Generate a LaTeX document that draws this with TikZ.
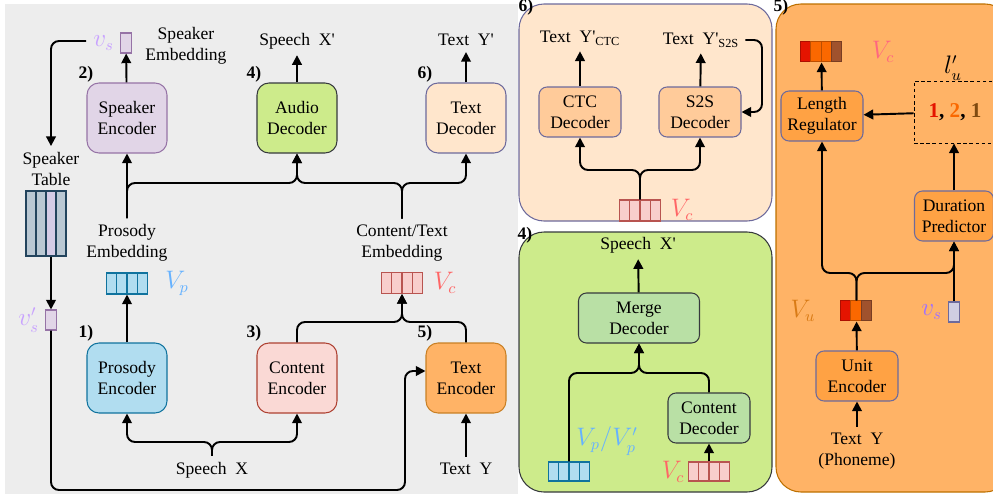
\documentclass[tikz,border=0pt]{standalone}
\usepackage{fontspec}
\setmainfont{Liberation Serif}
\usetikzlibrary{arrows.meta}
\usetikzlibrary{calc}

\definecolor{bggray}{HTML}{EDEDED}
\definecolor{spkfill}{HTML}{E1D5E7}
\definecolor{spkdraw}{HTML}{9673A6}
\definecolor{audfill}{HTML}{CDEB8B}
\definecolor{auddraw}{HTML}{36393D}
\definecolor{tdfill}{HTML}{FFE6CC}
\definecolor{tddraw}{HTML}{6D6A9C}
\definecolor{profill}{HTML}{B1DDF0}
\definecolor{prodraw}{HTML}{10739E}
\definecolor{confill}{HTML}{FAD9D5}
\definecolor{condraw}{HTML}{AE4132}
\definecolor{tefill}{HTML}{FFB366}
\definecolor{tedraw}{HTML}{C98025}
\definecolor{tblc}{HTML}{BAC8D3}
\definecolor{tbldraw}{HTML}{23445D}
\definecolor{tblsel}{HTML}{D5CCE6}
\definecolor{vsdraw}{HTML}{9673A6}
\definecolor{vslab}{HTML}{C8A2FF}
\definecolor{vplab}{HTML}{66B2FF}
\definecolor{vcfill}{HTML}{F8CECC}
\definecolor{vcdraw}{HTML}{B85450}
\definecolor{vclab}{HTML}{FF6666}
\definecolor{sdfill}{HTML}{FFCB9A}
\definecolor{gdfill}{HTML}{B9E0A5}
\definecolor{p5draw}{HTML}{BD7000}
\definecolor{odfill}{HTML}{FFA244}
\definecolor{ured}{HTML}{E51400}
\definecolor{uorg}{HTML}{FA6800}
\definecolor{ubrn}{HTML}{A0522D}
\definecolor{udark}{HTML}{7F4A10}
\definecolor{vulab}{HTML}{D97B16}
\definecolor{vsrfill}{HTML}{D0CEE2}
\definecolor{vsrlab}{HTML}{A070FF}
\definecolor{vc5lab}{HTML}{FF6680}

\tikzset{
  txt/.style={align=center},
  box/.style={draw, align=center, line width=0.6pt, rounded corners=2.4mm,
    minimum width=16mm, minimum height=14mm, inner sep=1pt},
  sbox/.style={box, rounded corners=1.6mm, minimum width=16.4mm, minimum height=10mm},
  panel/.style={line width=0.6pt, rounded corners=5mm},
  num/.style={font=\bfseries},
  arr/.style={line width=1.1pt, -{Triangle[length=5.5pt,width=5.5pt]}},
  con/.style={arr, rounded corners=1.6mm},
  vec/.style={draw, line width=0.6pt, minimum width=8.2mm, minimum height=4.2mm, inner sep=0pt},
  slim/.style={draw, line width=0.6pt, minimum width=2.2mm, minimum height=4mm, inner sep=0pt},
  vlab/.style={font=\fontsize{13.5}{15}\selectfont},
}

% dividers of a vector node: node, number of cells, colour
\newcommand{\splitvec}[3]{%
  \foreach \k in {1,...,#2}{
    \ifnum\k<#2
      \draw[#3, line width=0.6pt] ($(#1.north west)!\k/#2!(#1.north east)$) -- ($(#1.south west)!\k/#2!(#1.south east)$);
    \fi}}

\begin{document}
\begin{tikzpicture}[x=0.2mm, y=-0.2mm, font=\fontsize{10}{12}\selectfont]
\useasboundingbox (0,0) rectangle (993,497);

%panels
\fill[bggray] (5,4) rectangle (518,494);
\draw[panel, fill=tdfill, draw=tddraw] (519,4) rectangle (772,221);
\draw[panel, fill=audfill, draw=auddraw] (519,232) rectangle (772,492);
\draw[panel, fill=tefill, draw=p5draw] (776,4) rectangle (1010,492);

%%% main model %%%
%encoders / decoders
\node[box, fill=spkfill, draw=spkdraw] (spk) at (127,118) {Speaker\\Encoder};
\node[box, fill=audfill, draw=auddraw] (aud) at (297,118) {Audio\\Decoder};
\node[box, fill=tdfill, draw=tddraw] (tdec) at (466,118) {Text\\Decoder};
\node[box, fill=profill, draw=prodraw] (pro) at (127,378) {Prosody\\Encoder};
\node[box, fill=confill, draw=condraw] (con) at (297,378) {Content\\Encoder};
\node[box, fill=tefill, draw=tedraw] (tenc) at (466,378) {Text\\Encoder};

\node[num] at (86,74) {2)};
\node[num] at (254,74) {4)};
\node[num] at (425,74) {6)};
\node[num] at (86,333) {1)};
\node[num] at (254,333) {3)};
\node[num] at (425,333) {5)};

%outputs
\node[txt] (sxp) at (297,41) {Speech~~X\textquotesingle};
\node[txt] (typ) at (466,40) {Text~~Y\textquotesingle};
\draw[arr] (aud) -- (sxp);
\draw[arr] (tdec) -- (typ);

%speaker embedding
\node[slim, fill=spkfill, draw=vsdraw] (vs) at (126,43) {};
\node[vlab, text=vslab, left] (vsl) at (vs.west) {$v_s$};
\node[txt] (spkemb) at (186,46) {Speaker\\Embedding};
\draw[arr] (spk) -- (vs);
\coordinate (vsout) at (86,41);

%speaker table
\node[txt] (tbllab) at (51,169) {Speaker\\Table};
\foreach \i/\c in {1/tblc,2/tblc,3/tblsel,4/tblc}
  \node[draw=tbldraw, fill=\c, line width=0.6pt, minimum width=2mm, minimum height=13mm, inner sep=0pt] (t\i) at (21+10*\i,223.5) {};
\draw[con] (vsout) -| (tbllab.north);
\node[slim, fill=spkfill, draw=vsdraw] (vsp) at (51,320) {};
\node[vlab, text=vslab, left] (vspl) at (vsp.west) {$v'_s$};
\draw[arr] (t3.south) -- (vsp.north);
\coordinate (jb) at (405,490);
\coordinate (jtin) at ($(tenc.west)+(0,-7)$);
\draw[con] (vsp.south) |- (jb) |- (jtin);

%prosody embedding
\node[vec, fill=profill, draw=prodraw] (vp) at (127,283.5) {};
\splitvec{vp}{4}{prodraw}
\node[vlab, text=vplab] (vpl) at (177,283) {$V_p$};
\draw[arr] (pro) -- (vp);
\node[txt] (proemb) at (127,243) {Prosody\\Embedding};
\draw[arr] (proemb) -- (spk);

%content embedding
\node[vec, fill=vcfill, draw=vcdraw] (vc) at (402,283) {};
\splitvec{vc}{4}{vcdraw}
\node[vlab, text=vclab] (vcl) at (445,283) {$V_c$};
\node[txt] (ctemb) at (402,243) {Content/Text\\Embedding};
\coordinate (jc) at (402,322);
\draw[con] (con.north) |- (jc) -- (vc.south);
\draw[con] (tenc.north) |- (jc) -- (vc.south);

%to decoders
\coordinate (ja) at (297,183);
\coordinate (jt) at (466,183);
\draw[con] (proemb.north) |- (ja) -- (aud.south);
\draw[con] (ctemb.north) |- (ja) -- (aud.south);
\draw[con] (ctemb.north) |- (jt) -- (tdec.south);

%inputs
\node[txt] (sx) at (212,470) {Speech~~X};
\coordinate (js) at (212,442);
\draw[con] (sx.north) -- (js) -| (pro.south);
\draw[con] (sx.north) -- (js) -| (con.south);
\node[txt] (ty) at (466,469) {Text~~Y};
\draw[arr] (ty.north) -- (tenc.south);

%%% 6) text decoder %%%
\node[num] at (526,7) {6)};
\node[sbox, fill=sdfill, draw=tddraw] (ctc) at (580,112) {CTC\\Decoder};
\node[sbox, fill=sdfill, draw=tddraw] (s2s) at (700,112) {S2S\\Decoder};
\node[txt] (yctc) at (580,38) {Text~~Y\textquotesingle\textsubscript{CTC}};
\node[txt] (ys2s) at (701,40) {Text~~Y\textquotesingle\textsubscript{S2S}};
\draw[arr] (ctc) -- (yctc);
\draw[arr] (s2s) -- (ys2s);
\coordinate (fb) at (762,112);
\draw[con] (ys2s.east) -| (fb) -- (s2s.east);
\node[vec, fill=vcfill, draw=vcdraw] (vc6) at (640,210.5) {};
\splitvec{vc6}{4}{vcdraw}
\node[vlab, text=vclab] (vc6l) at (682,210) {$V_c$};
\coordinate (j6) at (640,170);
\draw[con] (vc6.north) -- (j6) -| (ctc.south);
\draw[con] (vc6.north) -- (j6) -| (s2s.south);

%%% 4) audio decoder %%%
\node[num] at (525,235) {4)};
\node[txt] (sxp4) at (638,245) {Speech~~X\textquotesingle};
\node[sbox, fill=gdfill, draw=auddraw, minimum width=24.2mm] (mrg) at (639,318) {Merge\\Decoder};
\node[sbox, fill=gdfill, draw=auddraw] (cdec) at (709,418) {Content\\Decoder};
\node[vec, fill=profill, draw=prodraw, minimum height=3.8mm] (vp4) at (569,471.5) {};
\splitvec{vp4}{4}{prodraw}
\node[vec, fill=vcfill, draw=vcdraw, minimum height=3.8mm] (vc4) at (709,471.5) {};
\splitvec{vc4}{4}{vcdraw}
\node[vlab, text=vplab] (vp4l) at (607,441) {$V_p/V_p'$};
\node[vlab, text=vclab] (vc4l) at (673,472) {$V_c$};
\coordinate (j4) at (639,373);
\draw[con] (vp4.north) |- (j4) -- (mrg.south);
\draw[con] (cdec.north) |- (j4) -- (mrg.south);
\draw[arr] (vc4) -- (cdec);
\draw[arr] (mrg) -- (sxp4);

%%% 5) text encoder %%%
\node[num] at (781,7) {5)};
\node[sbox, fill=odfill, draw=tddraw] (lr) at (822,116) {Length\\Regulator};
\node[sbox, fill=odfill, draw=tddraw, minimum width=15.8mm] (dp) at (954,216) {Duration\\Predictor};
\node[sbox, fill=odfill, draw=tddraw] (ue) at (857,376) {Unit\\Encoder};
\node[draw, dash pattern=on 2pt off 1.5pt, line width=0.5pt, minimum width=16.4mm, minimum height=12.4mm, font=\large\bfseries] (lu) at (955,112)
  {\textcolor{ured}{1}, \textcolor{uorg}{2}, \textcolor{udark}{1}};
\node[vlab] (lul) at (953,68) {$l'_u$};
\draw[arr] (lu) -- (lr);
\draw[arr] (dp.north) -- (dp.north |- lu.south);

%expanded units
\node[vec, draw=none, minimum height=4mm] (vco) at (821.5,52) {};
\foreach \c [count=\i from 0] in {ured,uorg,uorg,ubrn}
  \draw[fill=\c, draw=\c!75!black, line width=0.5pt] ($(vco.north west)+(10.25*\i,0)$) rectangle ++(10.25,20);
\node[vlab, text=vc5lab] (vcol) at (883,52) {$V_c$};
\draw[arr] (lr) -- (vco);

%units
\node[vec, draw=none, minimum width=6.2mm, minimum height=4mm] (vu) at (856.5,311) {};
\foreach \c [count=\i from 0] in {ured,uorg,ubrn}
  \draw[fill=\c, draw=\c!75!black, line width=0.5pt] ($(vu.north west)+(10.33*\i,0)$) rectangle ++(10.33,20);
\node[vlab, text=vulab] (vul) at (803,311) {$V_u$};
\draw[arr] (ue) -- (vu);
\node[txt] (tyu) at (857,451) {Text~~Y\\(Phoneme)};
\draw[arr] (tyu) -- (ue);

%speaker vector
\node[slim, fill=vsrfill, draw=tddraw] (vs5) at (954,312) {};
\node[vlab, text=vsrlab, left] (vs5l) at (vs5.west) {$v_s$};
\coordinate (j5a) at (822,273);
\coordinate (j5b) at (954,273);
\draw[con] (vu.north) |- (j5a) -- (lr.south);
\draw[con] (vu.north) |- (j5b) -- (dp.south);
\draw[arr] (vs5) -- (dp);

\end{tikzpicture}
\end{document}
